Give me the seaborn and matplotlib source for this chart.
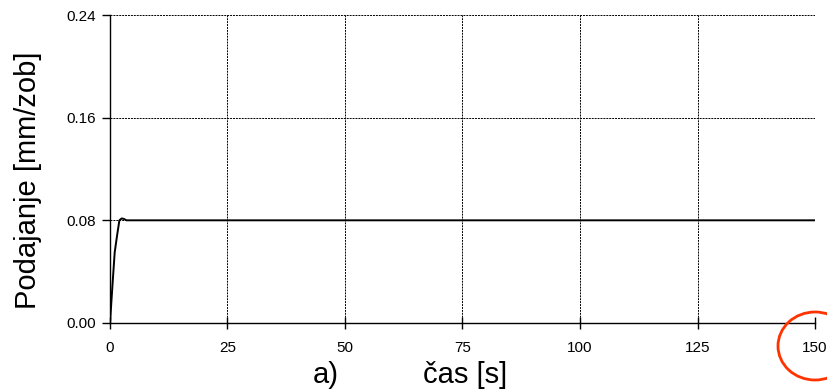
import matplotlib
matplotlib.use("Agg")
import matplotlib.pyplot as plt
import matplotlib.patches as mpatches
import pandas as pd
import seaborn as sns

# feed rate response
time_s = [0, 0.5, 1.0, 1.5, 2.0, 2.5, 3.0, 3.5, 5, 25, 50, 75, 100, 125, 150]
feed = [0.0, 0.028, 0.055, 0.068, 0.080, 0.0815, 0.081, 0.080, 0.080, 0.080, 0.080, 0.080, 0.080, 0.080, 0.080]
x_ticks = [0, 25, 50, 75, 100, 125, 150]
y_ticks = [0.00, 0.08, 0.16, 0.24]

df = pd.DataFrame({"cas": time_s, "podajanje": feed})

sns.set_style("white")
plt.rcParams["font.family"] = ["Liberation Sans", "DejaVu Sans"]
plt.rcParams["text.color"] = "black"
plt.rcParams["axes.labelcolor"] = "black"

fig = plt.figure(figsize=(8.27, 3.91), dpi=100)
ax = fig.add_axes([0.133, 0.174, 0.8525, 0.7876])

sns.lineplot(data=df, x="cas", y="podajanje", ax=ax, color="black", linewidth=1.4)

ax.set_xlim(0, 150)
ax.set_ylim(0, 0.24)
ax.set_xticks(x_ticks)
ax.set_yticks(y_ticks)
ax.set_yticklabels([f"{v:.2f}" for v in y_ticks])
ax.grid(True, linestyle=(0, (2, 1)), color="black", linewidth=0.7)

for side in ["top", "right"]:
    ax.spines[side].set_visible(False)
for side in ["left", "bottom"]:
    ax.spines[side].set_color("black")
    ax.spines[side].set_linewidth(1.0)

ax.tick_params(axis="x", direction="inout", length=8, width=1, labelsize=11, pad=9, colors="black")
ax.tick_params(axis="y", direction="out", length=6, width=1, labelsize=11, pad=4, colors="black")
ax.tick_params(bottom=True, left=True)

ax.set_xlabel("čas [s]", fontsize=21)
ax.set_ylabel("Podajanje [mm/zob]", fontsize=21)
ax.xaxis.set_label_coords((465 - 110) / 705, -(375 - 323) / 308)
ax.yaxis.set_label_coords(-(110 - 28) / 705, (323 - 180) / 308)
ax.xaxis.label.set_va("center")
ax.yaxis.label.set_va("center")
fig.text(326 / 827, 1 - 375 / 391, "a)", fontsize=21, ha="center", va="center")

# red circle round the last tick label
circle = mpatches.Ellipse((815 / 827, 1 - 346 / 391), 74 / 827, 68 / 391,
                          transform=fig.transFigure, fill=False,
                          edgecolor="#ff3300", linewidth=2)
fig.add_artist(circle)

fig.savefig("out.png", dpi=100)
